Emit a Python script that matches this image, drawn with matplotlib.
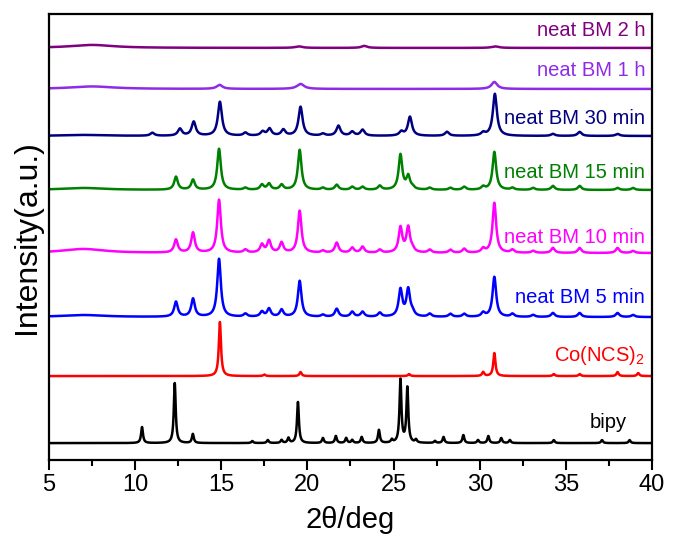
import numpy as np
import matplotlib
matplotlib.use('Agg')
import matplotlib.pyplot as plt
from matplotlib.ticker import MultipleLocator

plt.rcParams['font.family'] = 'Liberation Sans'
plt.rcParams['mathtext.fontset'] = 'custom'
plt.rcParams['mathtext.rm'] = 'Liberation Sans'

# peak lists: position (2theta, deg), height, fwhm
bipy_pos = [10.4, 12.3, 13.35, 16.8, 17.7, 18.5, 18.9, 19.45, 20.9, 21.65, 22.25, 22.6, 23.15,
            24.15, 24.9, 25.4, 25.8, 26.3, 27.4, 27.9, 29.05, 29.9, 30.5, 31.25, 31.75, 34.3, 37.1, 38.7]
bipy_hgt = [16, 60, 9, 2, 3, 3, 5, 41, 5, 7, 5, 3, 6, 13, 3, 63, 55, 3, 2, 6, 8, 3, 7, 5, 3, 3, 3, 3]

co_pos = [14.92, 17.5, 19.6, 25.9, 30.2, 30.85, 34.3, 35.8, 38.0, 39.2]
co_hgt = [54, 1.5, 4, 2, 4, 23, 2, 2, 4, 3]

bm_pos = [7.0, 12.37, 13.36, 14.87, 16.4, 17.36, 17.77, 18.5, 19.55, 20.9, 21.7, 22.6, 23.2, 24.2,
          25.4, 25.85, 26.1, 27.1, 28.3, 29.1, 30.2, 30.85, 31.9, 33.1, 34.25, 35.8, 38.0, 38.9]
bm_wid = [3.0] + [0.25] * 27
bm5_hgt = [2, 15, 18, 58, 3, 5, 8, 7, 36, 2, 8, 5, 5, 4, 27, 27, 4, 3, 3, 3, 4, 40, 3, 2, 4, 4, 4, 2]
bm10_hgt = [4, 13, 20, 53, 3, 8, 12, 10, 42, 2, 10, 5, 6, 3, 25, 25, 3, 3, 3, 4, 4, 50, 3, 2, 5, 5, 5, 2]
bm15_hgt = [2, 13, 10, 41, 2, 5, 6, 5, 40, 2, 5, 3, 3, 4, 35, 13, 2, 2, 2, 3, 3, 38, 2, 2, 4, 4, 2, 2]

bm30_pos = [7.0, 11.0, 12.6, 13.4, 14.92, 16.4, 17.4, 17.8, 18.6, 19.6, 20.9, 21.8, 22.6, 23.2,
            25.45, 25.95, 28.1, 30.2, 30.88, 34.25, 35.8, 38.0]
bm30_hgt = [1, 3, 7, 14, 34, 3, 4, 7, 6, 29, 2, 10, 4, 6, 4, 19, 4, 3, 42, 2, 4, 2]
bm30_wid = [3.0] + [0.28] * 21

bm1h_pos = [7.5, 14.9, 19.6, 30.85]
bm1h_hgt = [2.5, 4, 5, 7]
bm1h_wid = [3.0, 0.4, 0.5, 0.4]

bm2h_pos = [7.5, 19.5, 23.3, 30.9]
bm2h_hgt = [3, 1.5, 2, 1.5]
bm2h_wid = [3.0, 0.5, 0.4, 0.5]

labels = ['bipy', 'Co(NCS)$_2$', 'neat BM 5 min', 'neat BM 10 min', 'neat BM 15 min',
          'neat BM 30 min', 'neat BM 1 h', 'neat BM 2 h']
colors = ['#000000', '#ff0000', '#0000ff', '#ff00ff', '#008000', '#000080', '#8f2be8', '#800080']
offsets = [17, 84, 143, 207, 270, 324, 371, 412]
label_y = [38, 105, 163, 223, 287, 341, 389, 429]
label_x = [38.55, 39.6, 39.6, 39.6, 39.6, 39.6, 39.6, 39.6]

x = np.linspace(5, 40, 3501)


def pattern(pos, hgt, wid):
    y = np.zeros_like(x)
    for p, h, w in zip(pos, hgt, wid):
        y += h / (1 + ((x - p) / (w / 2)) ** 2)
    return y


curves = [
    pattern(bipy_pos, bipy_hgt, [0.13] * len(bipy_pos)),
    pattern(co_pos, co_hgt, [0.15] * len(co_pos)),
    pattern(bm_pos, bm5_hgt, bm_wid),
    pattern(bm_pos, bm10_hgt, bm_wid),
    pattern(bm_pos, bm15_hgt, bm_wid),
    pattern(bm30_pos, bm30_hgt, bm30_wid),
    pattern(bm1h_pos, bm1h_hgt, bm1h_wid),
    pattern(bm2h_pos, bm2h_hgt, bm2h_wid),
]

fig = plt.figure(figsize=(6.73, 5.35), dpi=100)
ax = fig.add_axes([0.0728, 0.14, 0.896, 0.834])

for y, off, c, lab, lx, ly in zip(curves, offsets, colors, labels, label_x, label_y):
    ax.plot(x, y + off, color=c, lw=1.8)
    ax.text(lx, ly, lab, color=c, fontsize=14.5, ha='right', va='center')

ax.set_xlim(5, 40)
ax.set_ylim(0, 446)
ax.xaxis.set_major_locator(MultipleLocator(5))
ax.xaxis.set_minor_locator(MultipleLocator(2.5))
ax.tick_params(axis='x', which='major', direction='out', length=7, width=1.5, labelsize=17, pad=3)
ax.tick_params(axis='x', which='minor', direction='out', length=4, width=1.5)
ax.set_yticks([])
for s in ax.spines.values():
    s.set_linewidth(1.6)

ax.set_xlabel('2θ/deg', fontsize=21, labelpad=7)
ax.set_ylabel('Intensity(a.u.)', fontsize=23, labelpad=5)

fig.savefig('out.png', dpi=100)
